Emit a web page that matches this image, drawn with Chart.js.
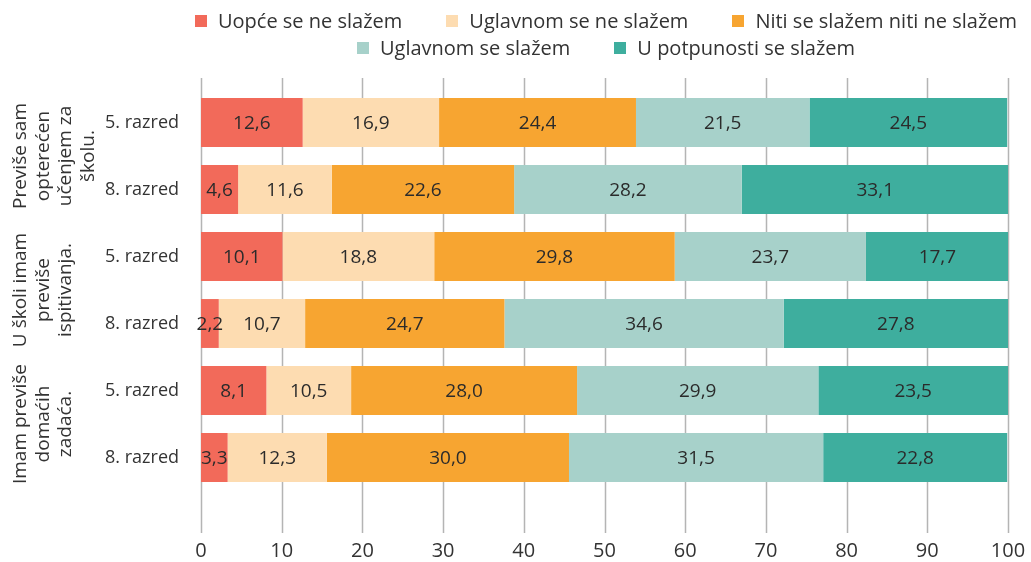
<!DOCTYPE html>
<html>
<head>
<meta charset="utf-8">
<script src="https://cdn.jsdelivr.net/npm/chart.js@4/dist/chart.umd.min.js"></script>
<style>
    body { margin: 0; background: #ffffff; font-family: "Open Sans", sans-serif; }
    #wrap { position: relative; width: 1031px; height: 562px; }
    #legend { position: absolute; top: 7px; left: 176px; width: 860px; color: #333333; font-size: 20px; }
    .row { display: flex; justify-content: center; height: 27px; align-items: center; }
    .item { display: flex; align-items: center; margin: 0 22px; white-space: nowrap; }
    .box { width: 12px; height: 12px; margin-right: 11px; }
</style>
</head>
<body>
<div id="wrap">
    <div id="legend"></div>
    <canvas id="likertChart" width="1031" height="562"></canvas>
</div>
<script>
// categories (one bar per grade) and the statement groups they belong to
const rowLabels = ["5. razred", "8. razred", "5. razred", "8. razred", "5. razred", "8. razred"];
const groupLabels = [
    ["Previše sam", "opterećen", "učenjem za", "školu."],
    ["U školi imam", "previše", "ispitivanja."],
    ["Imam previše", "domaćih", "zadaća."]
];
const groupRows = [[0, 1], [2, 3], [4, 5]];

const seriesNames = ["Uopće se ne slažem", "Uglavnom se ne slažem", "Niti se slažem niti ne slažem", "Uglavnom se slažem", "U potpunosti se slažem"];
const seriesColors = ["#f26a5a", "#fddcb1", "#f7a531", "#a7d1ca", "#3eae9e"];

// percentages per answer, one value per bar
const notAtAll = [12.6, 4.6, 10.1, 2.2, 8.1, 3.3];
const mostlyNot = [16.9, 11.6, 18.8, 10.7, 10.5, 12.3];
const neither = [24.4, 22.6, 29.8, 24.7, 28.0, 30.0];
const mostlyYes = [21.5, 28.2, 23.7, 34.6, 29.9, 31.5];
const fully = [24.5, 33.1, 17.7, 27.8, 23.5, 22.8];

const xTicks = [0, 10, 20, 30, 40, 50, 60, 70, 80, 90, 100];

const FONT = "'Open Sans', sans-serif";
const TEXT = "#333333";

const allSeries = [notAtAll, mostlyNot, neither, mostlyYes, fully];

// legend (two rows, like the original)
const legendRows = [[0, 1, 2], [3, 4]];
const legendEl = document.getElementById("legend");
legendRows.forEach(r => {
    const row = document.createElement("div");
    row.className = "row";
    r.forEach(i => {
        const item = document.createElement("div");
        item.className = "item";
        item.innerHTML = '<span class="box" style="background:' + seriesColors[i] + '"></span><span>' + seriesNames[i] + '</span>';
        row.appendChild(item);
    });
    legendEl.appendChild(row);
});

// vertical grid lines that run a bit past the plot, above and below
const gridPlugin = {
    id: "gridLines",
    beforeDatasetsDraw(chart) {
        const { ctx, chartArea, scales } = chart;
        ctx.save();
        ctx.strokeStyle = "#b4b4b4";
        ctx.lineWidth = 1.5;
        xTicks.forEach(v => {
            const x = Math.round(scales.x.getPixelForValue(v)) + 0.5;
            ctx.beginPath();
            ctx.moveTo(x, chartArea.top - 11);
            ctx.lineTo(x, chartArea.bottom + 42);
            ctx.stroke();
        });
        ctx.restore();
    }
};

// value labels in the middle of each segment
const valuePlugin = {
    id: "valueLabels",
    afterDatasetsDraw(chart) {
        const { ctx } = chart;
        ctx.save();
        ctx.font = "19px " + FONT;
        ctx.fillStyle = "#2b2b2b";
        ctx.textAlign = "center";
        ctx.textBaseline = "middle";
        chart.data.datasets.forEach((ds, di) => {
            chart.getDatasetMeta(di).data.forEach((bar, i) => {
                const p = bar.getProps(["x", "y", "base"], true);
                const txt = ds.data[i].toFixed(1).replace(".", ",");
                ctx.fillText(txt, (p.x + p.base) / 2, p.y + 1);
            });
        });
        ctx.restore();
    }
};

// rotated statement labels on the far left
const groupPlugin = {
    id: "groupLabels",
    afterDraw(chart) {
        const { ctx, scales } = chart;
        ctx.save();
        ctx.font = "19px " + FONT;
        ctx.fillStyle = TEXT;
        ctx.textAlign = "center";
        ctx.textBaseline = "middle";
        groupLabels.forEach((lines, g) => {
            const [a, b] = groupRows[g];
            const cy = (scales.y.getPixelForValue(a) + scales.y.getPixelForValue(b)) / 2;
            ctx.save();
            ctx.translate(21, cy);
            ctx.rotate(-Math.PI / 2);
            lines.forEach((line, k) => ctx.fillText(line, 0, k * 22.5));
            ctx.restore();
        });
        ctx.restore();
    }
};

const ctx = document.getElementById("likertChart").getContext("2d");
new Chart(ctx, {
    type: "bar",
    data: {
        labels: rowLabels,
        datasets: allSeries.map((values, i) => ({
            label: seriesNames[i],
            data: values,
            backgroundColor: seriesColors[i],
            borderWidth: 0,
            barPercentage: 0.73,
            categoryPercentage: 1
        }))
    },
    options: {
        indexAxis: "y",
        responsive: false,
        animation: false,
        layout: { padding: { top: 89, right: 23, left: 0, bottom: 0 } },
        plugins: {
            legend: { display: false },
            tooltip: { enabled: false }
        },
        scales: {
            x: {
                stacked: true,
                min: 0,
                max: 100,
                afterBuildTicks(scale) {
                    scale.ticks = xTicks.map(v => ({ value: v }));
                },
                afterFit(scale) {
                    scale.height = 71;
                    // the "100" label may hang past the plot edge
                    scale.paddingLeft = 0;
                    scale.paddingRight = 0;
                },
                grid: { display: false, drawTicks: false },
                border: { display: false },
                ticks: {
                    padding: 48,
                    color: TEXT,
                    font: { family: FONT, size: 20 }
                }
            },
            y: {
                stacked: true,
                afterFit(scale) { scale.width = 201; },
                grid: { display: false, drawTicks: false },
                border: { display: false },
                ticks: {
                    padding: 22,
                    color: TEXT,
                    font: { family: FONT, size: 18 }
                }
            }
        }
    },
    plugins: [gridPlugin, valuePlugin, groupPlugin]
});
</script>
</body>
</html>
